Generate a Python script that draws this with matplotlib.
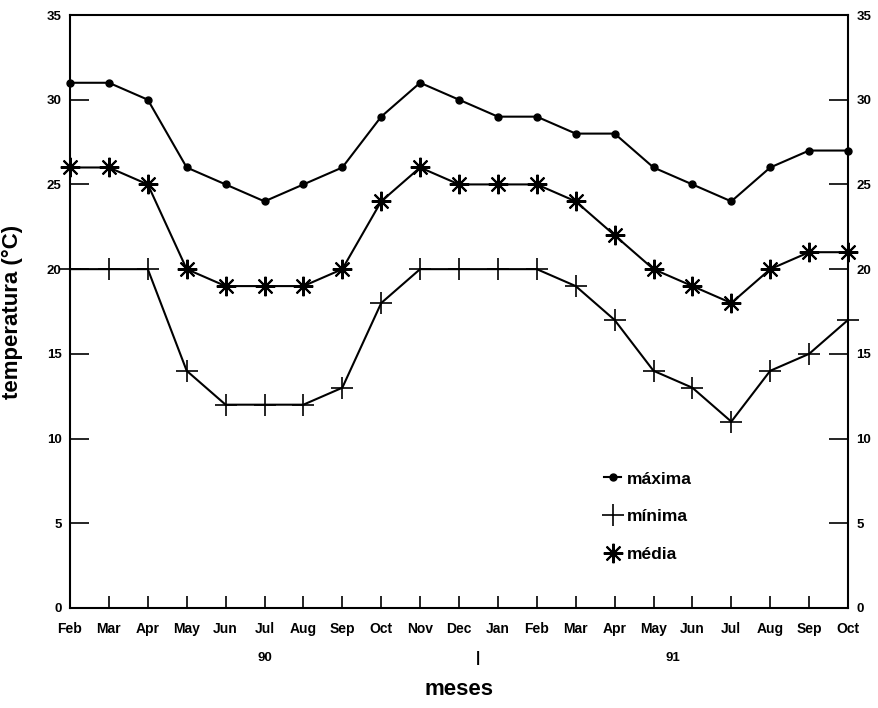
import matplotlib
matplotlib.use("Agg")
import matplotlib.pyplot as plt
from matplotlib.lines import Line2D

plt.rcParams['font.family'] = ['Liberation Sans', 'DejaVu Sans']

months = ["Feb", "Mar", "Apr", "May", "Jun", "Jul", "Aug", "Sep", "Oct", "Nov", "Dec",
          "Jan", "Feb", "Mar", "Apr", "May", "Jun", "Jul", "Aug", "Sep", "Oct"]
maxima = [31, 31, 30, 26, 25, 24, 25, 26, 29, 31, 30, 29, 29, 28, 28, 26, 25, 24, 26, 27, 27]
minima = [20, 20, 20, 14, 12, 12, 12, 13, 18, 20, 20, 20, 20, 19, 17, 14, 13, 11, 14, 15, 17]
media = [26, 26, 25, 20, 19, 19, 19, 20, 24, 26, 25, 25, 25, 24, 22, 20, 19, 18, 20, 21, 21]
yticks = [0, 5, 10, 15, 20, 25, 30, 35]

x = list(range(len(months)))

fig = plt.figure(figsize=(8.79, 7.08), dpi=100)
ax = fig.add_axes([70/879, 1-608/708, 778/879, 593/708])

ax.plot(x, maxima, color='black', lw=1.5, marker='o', ms=5, clip_on=False, zorder=3)
ax.plot(x, minima, color='black', lw=1.5, marker='+', ms=16, mew=1.2, clip_on=False, zorder=3)
ax.plot(x, media, color='black', lw=1.5, marker=(8, 2, 0), ms=14, mew=1.5, clip_on=False, zorder=3)

ax.set_xlim(0, len(months)-1)
ax.set_ylim(0, 35)
ax.set_xticks(x)
ax.set_xticklabels(months, fontsize=10, fontweight='bold')
ax.set_yticks(yticks)
ax.set_yticklabels([str(v) for v in yticks], fontsize=9.5, fontweight='bold')
ax.tick_params(axis='x', direction='in', length=9, width=1.2, pad=10)
ax.tick_params(axis='y', direction='in', length=14, width=1.2, pad=6,
               right=True, labelright=True)
for s in ax.spines.values():
    s.set_linewidth(1.5)

tr = ax.get_xaxis_transform()
ax.text(5, -0.085, "90", transform=tr, ha='center', va='center',
        fontsize=9.5, fontweight='bold')
ax.text(10.5, -0.085, "|", transform=tr, ha='center', va='center',
        fontsize=11, fontweight='bold')
ax.text(15.5, -0.085, "91", transform=tr, ha='center', va='center',
        fontsize=9.5, fontweight='bold')

ax.set_xlabel("meses", fontsize=16, fontweight='bold', va='center')
ax.xaxis.set_label_coords(0.5, -0.138)
ax.set_ylabel("temperatura (°C)", fontsize=16, fontweight='bold')
ax.yaxis.set_label_coords(-0.06, 0.5)

handles = [
    Line2D([], [], color='black', lw=1.5, marker='o', ms=5),
    Line2D([], [], color='none', marker='+', ms=16, mew=1.2, markeredgecolor='black'),
    Line2D([], [], color='none', marker=(8, 2, 0), ms=14, mew=1.5, markeredgecolor='black'),
]
ax.legend(handles, ["máxima", "mínima", "média"], loc='upper left',
          bbox_to_anchor=(0.675, 0.245), frameon=False, handlelength=1.0,
          handletextpad=0.3, labelspacing=1.3, borderpad=0,
          prop={'weight': 'bold', 'size': 12.5})

fig.savefig("out.png", dpi=100)
